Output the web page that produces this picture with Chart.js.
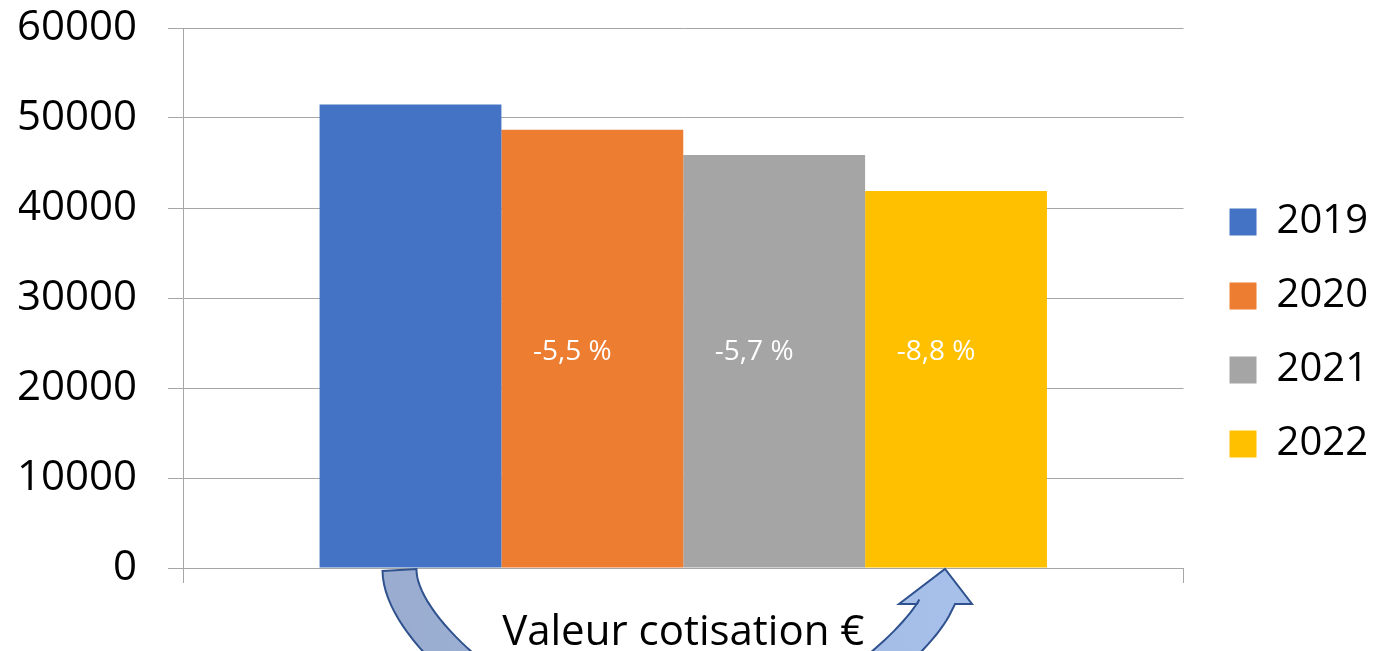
<!DOCTYPE html>
<html>
<head>
<meta charset="utf-8">
<script src="https://cdn.jsdelivr.net/npm/chart.js@4"></script>
<style>
  html, body { margin: 0; padding: 0; background: #fff; }
  #wrap { width: 1374px; height: 651px; }
</style>
</head>
<body>
<div id="wrap"><canvas id="chart"></canvas></div>
<script>
const categories = ['Valeur cotisation €'];
const years = ['2019', '2020', '2021', '2022'];
const values = [51500, 48700, 45900, 41900];
const colors = ['#4472C4', '#ED7D31', '#A5A5A5', '#FFC000'];
const changeLabels = ['', '-5,5 %', '-5,7 %', '-8,8 %'];
const yTicks = [0, 10000, 20000, 30000, 40000, 50000, 60000];

const FONT = '"Open Sans", "Noto Sans", sans-serif';
const GRID = '#A6A6A6';

// white % change text inside the bars
const changeLabelPlugin = {
  id: 'changeLabels',
  afterDatasetsDraw(chart) {
    const { ctx } = chart;
    const y = chart.scales.y.getPixelForValue(24000);
    ctx.save();
    ctx.fillStyle = '#fff';
    ctx.font = '28px ' + FONT;
    ctx.textAlign = 'center';
    ctx.textBaseline = 'middle';
    changeLabels.forEach((txt, i) => {
      if (!txt) return;
      const bar = chart.getDatasetMeta(i).data[0];
      ctx.fillText(txt, bar.x - 20, y);
    });
    ctx.restore();
  }
};

// push the legend a bit away from the plot
const legendShift = {
  id: 'legendShift',
  afterLayout(chart) {
    chart.legend.left += 12;
    chart.legend.right += 12;
  }
};

function cubic(p0, p1, p2, p3, t) {
  const u = 1 - t;
  return {
    x: u * u * u * p0.x + 3 * u * u * t * p1.x + 3 * u * t * t * p2.x + t * t * t * p3.x,
    y: u * u * u * p0.y + 3 * u * u * t * p1.y + 3 * u * t * t * p2.y + t * t * t * p3.y
  };
}

// curved arrow from the first bar to the last one, under the axis
const arrowPlugin = {
  id: 'curvedArrow',
  afterDraw(chart) {
    const { ctx, chartArea } = chart;
    const first = chart.getDatasetMeta(0).data[0];
    const last = chart.getDatasetMeta(years.length - 1).data[0];
    const p0 = { x: first.x - 11, y: chartArea.bottom + 2 };
    const tip = { x: last.x - 11, y: chartArea.bottom + 1 };
    const base = { x: tip.x - 9, y: tip.y + 35 };
    const mid = { x: (p0.x + tip.x) / 2, y: chartArea.bottom + 192 };
    const segs = [
      [p0, { x: p0.x, y: p0.y + 70 }, { x: mid.x - 112, y: mid.y }, mid],
      [mid, { x: mid.x + 108, y: mid.y }, { x: base.x - 21, y: base.y + 46 }, base]
    ];
    const pts = [];
    segs.forEach((s, k) => {
      for (let i = (k ? 1 : 0); i <= 40; i++) pts.push(cubic(s[0], s[1], s[2], s[3], i / 40));
    });
    const half = 17;
    const leftEdge = [], rightEdge = [];
    pts.forEach((p, i) => {
      const a = pts[Math.max(0, i - 1)], b = pts[Math.min(pts.length - 1, i + 1)];
      const dx = b.x - a.x, dy = b.y - a.y, len = Math.hypot(dx, dy) || 1;
      const nx = -dy / len, ny = dx / len;
      leftEdge.push({ x: p.x + nx * half, y: p.y + ny * half });
      rightEdge.push({ x: p.x - nx * half, y: p.y - ny * half });
    });
    // square the shaft off on the head's base line
    const outerEnd = leftEdge[leftEdge.length - 1];
    const innerEnd = rightEdge[rightEdge.length - 1];
    const a = outerEnd.x < innerEnd.x ? outerEnd : innerEnd;
    const b = outerEnd.x < innerEnd.x ? innerEnd : outerEnd;
    a.x = base.x - half - 2; a.y = base.y;
    b.x = base.x + half + 2; b.y = base.y;

    const grad = ctx.createLinearGradient(p0.x, 0, tip.x, 0);
    grad.addColorStop(0, '#9AADD0');
    grad.addColorStop(1, '#A6C0EA');

    ctx.save();
    ctx.beginPath();
    ctx.moveTo(leftEdge[0].x, leftEdge[0].y);
    leftEdge.forEach(p => ctx.lineTo(p.x, p.y));
    const lastL = leftEdge[leftEdge.length - 1];
    const wingL = { x: base.x - 37, y: base.y }, wingR = { x: base.x + 36, y: base.y };
    if (lastL.x < base.x) {
      ctx.lineTo(wingL.x, wingL.y); ctx.lineTo(tip.x, tip.y); ctx.lineTo(wingR.x, wingR.y);
    } else {
      ctx.lineTo(wingR.x, wingR.y); ctx.lineTo(tip.x, tip.y); ctx.lineTo(wingL.x, wingL.y);
    }
    for (let i = rightEdge.length - 1; i >= 0; i--) ctx.lineTo(rightEdge[i].x, rightEdge[i].y);
    ctx.closePath();
    ctx.fillStyle = grad;
    ctx.fill();
    ctx.strokeStyle = '#2F528F';
    ctx.lineWidth = 2;
    ctx.lineJoin = 'miter';
    ctx.stroke();
    ctx.restore();
  }
};

new Chart(document.getElementById('chart'), {
  type: 'bar',
  data: {
    labels: categories,
    datasets: years.map((yr, i) => ({
      label: yr,
      data: [values[i]],
      backgroundColor: colors[i],
      borderWidth: 0,
      categoryPercentage: 0.727,
      barPercentage: 1
    }))
  },
  options: {
    responsive: true,
    maintainAspectRatio: false,
    animation: false,
    layout: { padding: { left: 19, right: 8, top: 8, bottom: -7 } },
    plugins: {
      tooltip: { enabled: false },
      legend: {
        position: 'right',
        labels: {
          boxWidth: 27,
          boxHeight: 27,
          padding: 34,
          color: '#000',
          font: { family: FONT, size: 40 }
        }
      }
    },
    scales: {
      x: {
        offset: true,
        grid: { offset: true, drawOnChartArea: false, color: GRID, tickLength: 15 },
        border: { color: GRID },
        ticks: { color: '#000', padding: 25, font: { family: FONT, size: 42 } },
        afterFit: s => { s.height = 90; s.paddingLeft = 0; s.paddingRight = 0; }
      },
      y: {
        min: 0,
        max: 60000,
        afterBuildTicks: axis => { axis.ticks = yTicks.map(v => ({ value: v })); },
        grid: { color: GRID, tickLength: 15 },
        border: { color: GRID },
        ticks: {
          color: '#000',
          padding: 31,
          font: { family: FONT, size: 42 },
          callback: v => String(v)
        },
        afterFit: s => { s.width = 164; s.paddingTop = 28; s.paddingBottom = 0; }
      }
    }
  },
  plugins: [changeLabelPlugin, arrowPlugin, legendShift]
});
</script>
</body>
</html>
